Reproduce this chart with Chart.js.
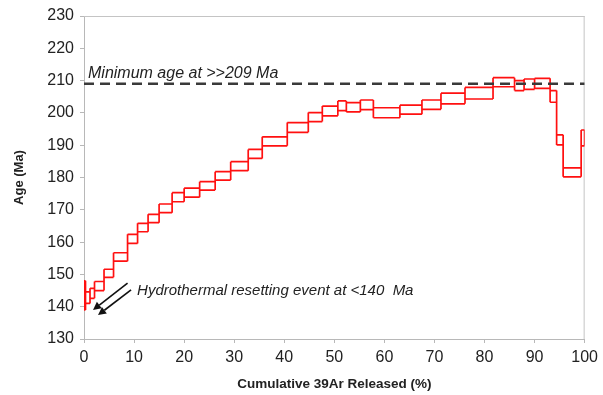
<!DOCTYPE html>
<html>
<head>
<meta charset="utf-8">
<script src="https://cdn.jsdelivr.net/npm/chart.js@4/dist/chart.umd.min.js"></script>
<style>
html,body{margin:0;padding:0;background:#fff;}
#wrap{width:603px;height:395px;position:relative;}
</style>
</head>
<body>
<div id="wrap"><canvas id="c" width="603" height="395"></canvas></div>
<script>
// Step heating data: cumulative 39Ar released (%) and age error envelope (Ma)
const stepStart = [0, 0.3, 1.2, 2.1, 4.0, 5.9, 8.7, 10.7, 12.8, 15.0, 17.6, 20.0, 23.1, 26.2, 29.3, 32.8, 35.6, 40.6, 44.8, 47.6, 50.7, 52.4, 55.2, 57.8, 63.1, 67.5, 71.3, 76.1, 81.7, 86.0, 87.9, 90.0, 93.1, 94.4, 95.7, 99.3];
const stepEnd   = [0.3, 1.2, 2.1, 4.0, 5.9, 8.7, 10.7, 12.8, 15.0, 17.6, 20.0, 23.1, 26.2, 29.3, 32.8, 35.6, 40.6, 44.8, 47.6, 50.7, 52.4, 55.2, 57.8, 63.1, 67.5, 71.3, 76.1, 81.7, 86.0, 87.9, 90.0, 93.1, 94.4, 95.7, 99.3, 100];
const ageLow    = [139.0, 141.0, 142.6, 145.0, 149.1, 154.1, 159.6, 163.2, 166.0, 169.1, 172.5, 173.9, 176.1, 179.2, 182.1, 185.9, 189.8, 194.0, 197.3, 199.1, 200.7, 200.3, 201.0, 198.5, 199.6, 201.1, 202.8, 204.3, 208.1, 206.9, 207.3, 207.6, 203.3, 190.1, 180.2, 189.8];
const ageHigh   = [148.0, 144.6, 145.7, 147.8, 151.6, 156.7, 162.4, 165.8, 168.6, 171.8, 175.3, 176.7, 178.7, 181.8, 184.9, 188.7, 192.6, 197.0, 200.1, 202.1, 203.7, 203.2, 204.0, 201.6, 202.4, 204.0, 206.1, 207.9, 210.9, 210.0, 210.5, 210.7, 206.9, 193.2, 183.0, 194.7];

const minimumAge = 209;
const minimumLabel = 'Minimum age at >>209 Ma';
const hydroLabel = 'Hydrothermal resetting event at <140  Ma';
// arrows (data units): [x1, y1, x2, y2], head at (x2, y2)
const arrowsData = [[8.7, 147.3, 1.8, 139.0], [9.4, 145.2, 2.8, 137.4]];

const xTicks = [0,10,20,30,40,50,60,70,80,90,100];
const yTicks = [130,140,150,160,170,180,190,200,210,220,230];

// build the spectrum outline: horizontals of each step, verticals at each boundary
const boxPts = [];
const n = stepStart.length;
for (let i = 0; i < n; i++) {
  boxPts.push({x: stepStart[i], y: ageHigh[i]});
  boxPts.push({x: stepEnd[i], y: ageHigh[i]});
  boxPts.push({x: stepEnd[i], y: null});
  boxPts.push({x: stepStart[i], y: ageLow[i]});
  boxPts.push({x: stepEnd[i], y: ageLow[i]});
  boxPts.push({x: stepEnd[i], y: null});
}
for (let k = 0; k <= n; k++) {
  const idx = [k - 1, k].filter(j => j >= 0 && j < n);
  const xb = k < n ? stepStart[k] : stepEnd[n - 1];
  const lo = Math.min(...idx.map(j => ageLow[j]));
  const hi = Math.max(...idx.map(j => ageHigh[j]));
  boxPts.push({x: xb, y: lo});
  boxPts.push({x: xb, y: hi});
  boxPts.push({x: xb, y: null});
}

const FONT = '"Liberation Sans", Arial, Helvetica, sans-serif';

const overlay = {
  id: 'overlay',
  beforeDatasetsDraw(chart) {
    const {ctx, chartArea: a} = chart;
    ctx.save();
    ctx.strokeStyle = '#c4c4c4';
    ctx.lineWidth = 1;
    ctx.beginPath();
    ctx.moveTo(a.left, a.top + 0.5);
    ctx.lineTo(a.right, a.top + 0.5);
    ctx.moveTo(a.right - 0.5, a.top);
    ctx.lineTo(a.right - 0.5, a.bottom);
    ctx.stroke();
    ctx.restore();
  },
  afterDatasetsDraw(chart) {
    const {ctx} = chart;
    const xs = chart.scales.x, ys = chart.scales.y;
    ctx.save();
    ctx.fillStyle = '#222';
    ctx.textBaseline = 'alphabetic';
    ctx.textAlign = 'left';
    ctx.font = 'italic 16px ' + FONT;
    ctx.fillText(minimumLabel, xs.getPixelForValue(0.8), ys.getPixelForValue(minimumAge) - 6);
    ctx.font = 'italic 15px ' + FONT;
    ctx.fillText(hydroLabel, xs.getPixelForValue(10.6), ys.getPixelForValue(143.6));
    // arrows
    ctx.strokeStyle = '#111';
    ctx.fillStyle = '#111';
    ctx.lineWidth = 1.6;
    arrowsData.forEach(([x1, y1, x2, y2]) => {
      const px1 = xs.getPixelForValue(x1), py1 = ys.getPixelForValue(y1);
      const px2 = xs.getPixelForValue(x2), py2 = ys.getPixelForValue(y2);
      const ang = Math.atan2(py2 - py1, px2 - px1);
      const hl = 8, hw = 4;
      const bx = px2 - hl * Math.cos(ang), by = py2 - hl * Math.sin(ang);
      ctx.beginPath();
      ctx.moveTo(px1, py1);
      ctx.lineTo(bx, by);
      ctx.stroke();
      ctx.beginPath();
      ctx.moveTo(px2, py2);
      ctx.lineTo(bx + hw * Math.sin(ang), by - hw * Math.cos(ang));
      ctx.lineTo(bx - hw * Math.sin(ang), by + hw * Math.cos(ang));
      ctx.closePath();
      ctx.fill();
    });
    ctx.restore();
  }
};

new Chart(document.getElementById('c'), {
  type: 'line',
  data: {
    datasets: [
      {
        label: 'Minimum age',
        data: [{x: 0, y: minimumAge}, {x: 100, y: minimumAge}],
        borderColor: '#3a3a3a',
        borderWidth: 2.5,
        borderDash: [10, 6],
        pointRadius: 0,
        fill: false
      },
      {
        label: 'Age spectrum',
        data: boxPts,
        borderColor: '#ff1010',
        borderWidth: 1.7,
        pointRadius: 0,
        tension: 0,
        spanGaps: false,
        fill: false
      }
    ]
  },
  options: {
    responsive: false,
    animation: false,
    layout: {padding: {top: 16, right: 13, left: 0, bottom: 0}},
    plugins: {legend: {display: false}, tooltip: {enabled: false}},
    scales: {
      x: {
        type: 'linear',
        min: 0, max: 100,
        afterFit(s) { s.height = 56; },
        afterBuildTicks(s) { s.ticks = xTicks.map(v => ({value: v})); },
        ticks: {color: '#222', font: {family: FONT, size: 16}, padding: 5, maxRotation: 0},
        grid: {display: true, drawOnChartArea: false, drawTicks: true, tickLength: 4, color: '#b8b8b8'},
        border: {display: true, color: '#b8b8b8', width: 1},
        title: {display: true, text: 'Cumulative 39Ar Released (%)', color: '#222', font: {family: FONT, size: 13.5, weight: 'bold'}, padding: {top: 0, bottom: 3}}
      },
      y: {
        type: 'linear',
        min: 130, max: 230,
        afterFit(s) { s.width = 84; },
        afterBuildTicks(s) { s.ticks = yTicks.map(v => ({value: v})); },
        ticks: {color: '#222', font: {family: FONT, size: 16}, padding: 6},
        grid: {display: true, drawOnChartArea: false, drawTicks: true, tickLength: 4, color: '#b8b8b8'},
        border: {display: true, color: '#b8b8b8', width: 1},
        title: {display: true, text: 'Age (Ma)', color: '#222', font: {family: FONT, size: 13, weight: 'bold'}, padding: {top: 12, bottom: 0}}
      }
    }
  },
  plugins: [overlay]
});
</script>
</body>
</html>
